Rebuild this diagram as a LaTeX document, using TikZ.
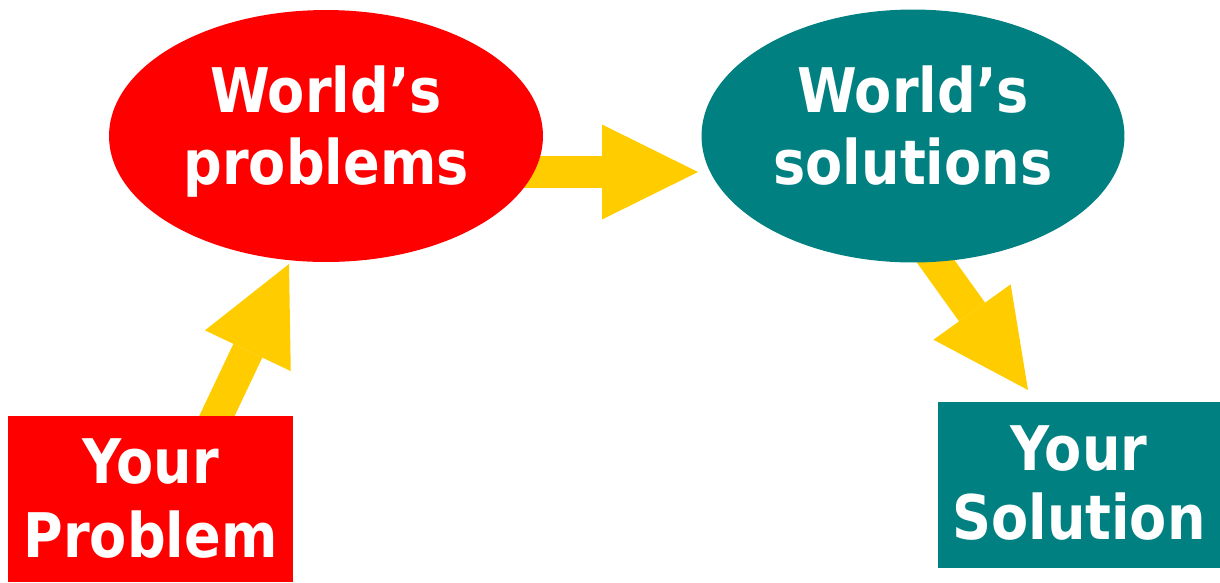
\documentclass[tikz,border=0pt]{standalone}
\usepackage{fontspec}
\setmainfont{DejaVu Sans}
\newfontfamily\bigfont[UprightFont=* Bold,FakeStretch=0.88]{DejaVu Sans}
\usetikzlibrary{shapes}
\usetikzlibrary{arrows.meta}
\usetikzlibrary{backgrounds}
\definecolor{myred}{HTML}{FF0000}
\definecolor{myteal}{HTML}{008080}
\definecolor{myyellow}{HTML}{FFCC00}
\tikzset{
    mynode/.style = {ellipse, inner sep=0pt, align=center, text=white, text height=2.26cm, text depth=0.3cm, font=\bigfont\fontsize{35}{41.5}\selectfont},
    mynoder/.style = {mynode, fill=myred, minimum width=8.68cm, minimum height=5.04cm},
    mynodet/.style = {mynode, fill=myteal, minimum width=8.46cm, minimum height=5.06cm},
    cell/.style = {rectangle, inner sep=0pt, align=center, text=white, text depth=0pt},
    cellr/.style = {cell, fill=myred, minimum width=5.7cm, minimum height=3.32cm, text height=2.32cm, font=\bigfont\fontsize{35}{42}\selectfont},
    cellt/.style = {cell, fill=myteal, minimum width=5.64cm, minimum height=3.32cm, text height=2.2cm, font=\bigfont\fontsize{35}{39.8}\selectfont},
    edgey/.style = {-{Triangle[length=1.92cm,width=1.9cm,line width=0pt]}, line width=0.64cm, draw=myyellow}, % big block arrow
}

\begin{document}
\begin{tikzpicture}[x=0.02cm,y=-0.02cm]
\useasboundingbox (0,0) rectangle (1220,582);
\node[mynoder] at (326,136) (pell) {World’s\\problems};
\node[mynodet] at (913,136) (sell) {World’s\\solutions};
\node[cellr] at (150.5,499) (pbox) {Your\\Problem};
\node[cellt] at (1079,485) (sbox) {Your\\Solution};
\begin{scope}[on background layer]
\draw[edgey] ([shift={(27,0)}]pbox.center) -- ([shift={(-37,128)}]pell.center);
\draw[edgey] ([shift={(150,36)}]pell.center) -- ([shift={(-215,36)}]sell.center);
\draw[edgey] ([shift={(-12,77)}]sell.center) -- ([shift={(-51,-95)}]sbox.center);
\end{scope}
\end{tikzpicture}
\end{document}
